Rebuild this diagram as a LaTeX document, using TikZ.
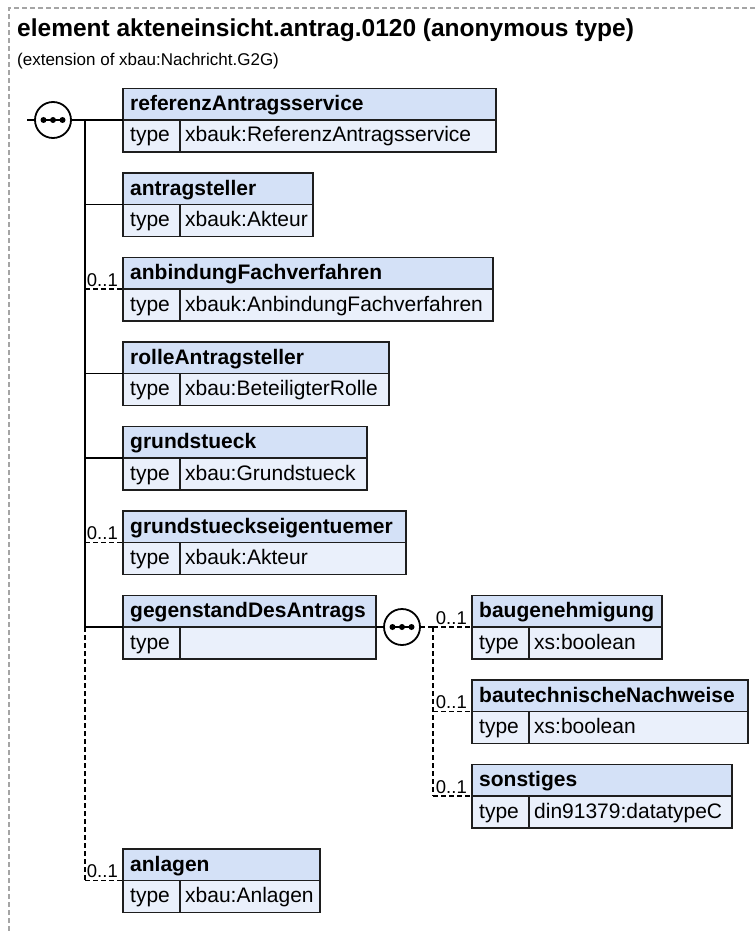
\documentclass[tikz,border=0pt]{standalone}
\usepackage{fontspec}
\setmainfont{Liberation Sans}
\definecolor{hdrfill}{RGB}{212,225,247}
\definecolor{rowfill}{RGB}{234,240,251}
\definecolor{edgecol}{RGB}{30,30,30}
\definecolor{framegray}{RGB}{165,165,165}
\tikzset{
 boxhdr/.style={rectangle, draw=edgecol, fill=hdrfill, line width=1.8pt, minimum height=31.5pt, inner sep=0pt, outer sep=0pt},
 boxrow/.style={rectangle, draw=edgecol, fill=rowfill, line width=1.8pt, minimum height=32pt, inner sep=0pt, outer sep=0pt},
 boxtxt/.style={inner sep=0pt, font=\fontsize{21}{25}\selectfont, anchor=base west},
 boxbold/.style={inner sep=0pt, font=\fontsize{21}{25}\selectfont\bfseries, anchor=base west},
 seqc/.style={circle, draw=black, fill=white, line width=1.8pt, minimum size=36pt, inner sep=0pt, outer sep=0pt},
 conn/.style={line width=1.8pt, black},
 optconn/.style={line width=1.6pt, black, dash pattern=on 5pt off 3pt},
 mult/.style={inner sep=0pt, font=\fontsize{18.5}{22}\selectfont, anchor=base east},
}
\newcommand\xsdelem[6]{%
 \node[boxhdr, minimum width={(#4-#2)*1pt}, anchor=north west] (#1) at (#2,#3) {};
 \node[boxrow, minimum width=57pt, anchor=north west] (#1-t) at (#1.south west) {};
 \node[boxrow, minimum width={(#4-#2-57)*1pt}, anchor=north west] (#1-v) at (#1-t.north east) {};
 \node[boxbold] (#1-n) at ([xshift=7pt,yshift=-22pt]#1.north west) {#5};
 \node[boxtxt] (#1-tt) at ([xshift=7pt,yshift=-22pt]#1-t.north west) {type};
 \node[boxtxt] (#1-vt) at ([xshift=5pt,yshift=-22pt]#1-v.north west) {#6};
}
\begin{document}
\begin{tikzpicture}[x=1pt,y=-1pt]
\useasboundingbox (0,0) rectangle (755,931);
% frame
\draw[framegray, line width=1.2pt, dash pattern=on 5pt off 3pt] (9,931) -- (9,8) -- (755,8);
% title
\node[anchor=base west, inner sep=0pt, font=\fontsize{24.5}{29}\selectfont\bfseries] (title) at (17,37) {element akteneinsicht.antrag.0120 (anonymous type)};
\node[anchor=base west, inner sep=0pt, font=\fontsize{17}{20}\selectfont] (subtitle) at (17,66) {(extension of xbau:Nachricht.G2G)};
% elements
\xsdelem{ref}{123}{88.5}{496}{referenzAntragsservice}{xbauk:ReferenzAntragsservice}
\xsdelem{ant}{123}{173}{313}{antragsteller}{xbauk:Akteur}
\xsdelem{anb}{123}{257.5}{493}{anbindungFachverfahren}{xbauk:AnbindungFachverfahren}
\xsdelem{rol}{123}{342}{389}{rolleAntragsteller}{xbau:BeteiligterRolle}
\xsdelem{gst}{123}{426.5}{367}{grundstueck}{xbau:Grundstueck}
\xsdelem{gse}{123}{511}{406}{grundstueckseigentuemer}{xbauk:Akteur}
\xsdelem{gda}{123}{595.5}{376}{gegenstandDesAntrags}{}
\xsdelem{bau}{472}{595.5}{662}{baugenehmigung}{xs:boolean}
\xsdelem{btn}{472}{680}{748}{bautechnischeNachweise}{xs:boolean}
\xsdelem{son}{472}{764.5}{732}{sonstiges}{din91379:datatypeC}
\xsdelem{anl}{123}{849}{320}{anlagen}{xbau:Anlagen}
% sequence compositors
\node[seqc] (seq1) at (53,120) {};
\node[seqc] (seq2) at (402,627) {};
\foreach \s in {seq1,seq2}{
 \draw[line width=1.6pt] ([xshift=-9.5pt]\s.center) -- ([xshift=9.5pt]\s.center);
 \fill ([xshift=-9.5pt]\s.center) circle (3pt);
 \fill (\s.center) circle (3pt);
 \fill ([xshift=9.5pt]\s.center) circle (3pt);
}
% main connectors
\coordinate (in1) at (27,120);
\coordinate (trk) at (85,120);
\draw[conn] (in1) -- (seq1.west);
\draw[conn] (seq1.east) -- (ref.south west);
\draw[conn] (trk) -- (trk |- gda.south west);
\draw[optconn] (trk |- gda.south west) -- (trk |- anl.south west);
\draw[conn] (trk |- ant.south west) -- (ant.south west);
\draw[optconn] (trk |- anb.south west) -- (anb.south west);
\draw[conn] (trk |- rol.south west) -- (rol.south west);
\draw[conn] (trk |- gst.south west) -- (gst.south west);
\draw[optconn] (trk |- gse.south west) -- (gse.south west);
\draw[conn] (trk |- gda.south west) -- (gda.south west);
\draw[optconn] (trk |- anl.south west) -- (anl.south west);
% child connectors
\coordinate (trk2) at (433,627);
\draw[conn] (gda.south east) -- (seq2.west);
\draw[optconn] (seq2.east) -- (trk2);
\draw[optconn] (trk2) -- (trk2 |- son.south west);
\draw[optconn] (trk2 |- bau.south west) -- (bau.south west);
\draw[optconn] (trk2 |- btn.south west) -- (btn.south west);
\draw[optconn] (trk2 |- son.south west) -- (son.south west);
% multiplicities
\node[mult] (m-anb) at ([xshift=-5pt,yshift=3pt]anb.south west) {0..1};
\node[mult] (m-gse) at ([xshift=-5pt,yshift=3pt]gse.south west) {0..1};
\node[mult] (m-anl) at ([xshift=-5pt,yshift=3pt]anl.south west) {0..1};
\node[mult] (m-bau) at ([xshift=-5pt,yshift=3pt]bau.south west) {0..1};
\node[mult] (m-btn) at ([xshift=-5pt,yshift=3pt]btn.south west) {0..1};
\node[mult] (m-son) at ([xshift=-5pt,yshift=3pt]son.south west) {0..1};
\end{tikzpicture}
\end{document}
